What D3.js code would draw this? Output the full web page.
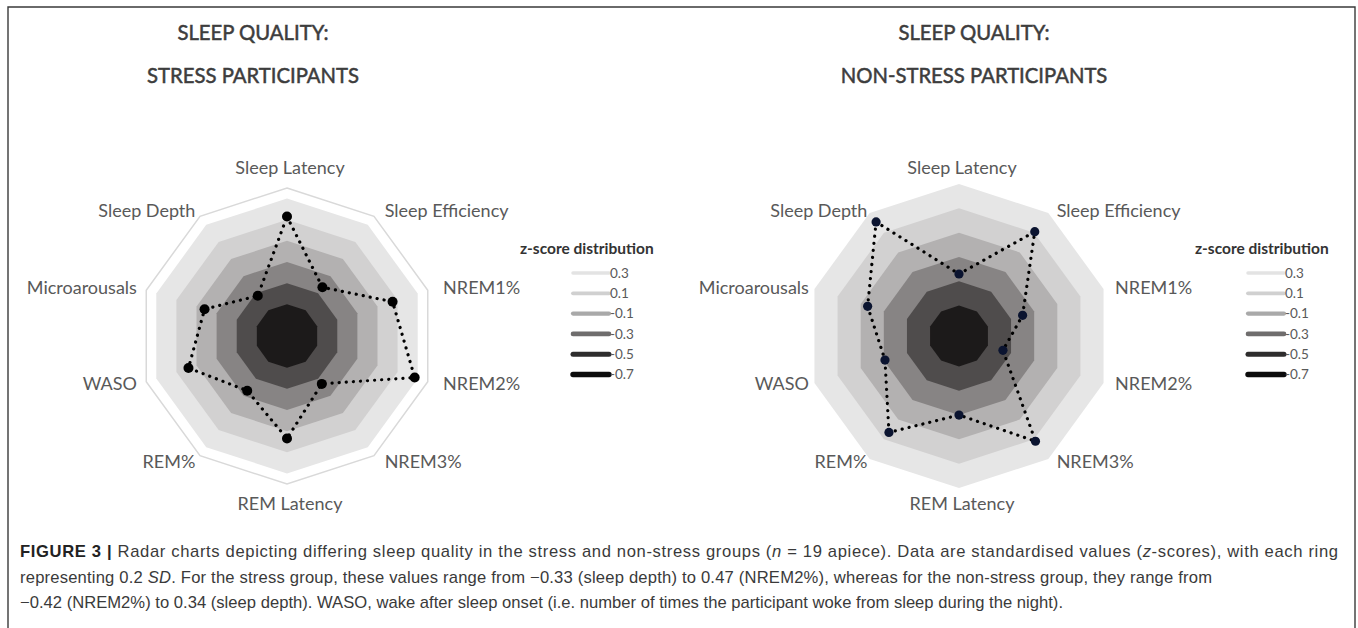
<!DOCTYPE html>
<html>
<head>
<meta charset="utf-8">
<script src="https://cdn.jsdelivr.net/npm/d3@7/dist/d3.min.js"></script>
<style>
  body { margin: 0; background: #fff; }
  svg { display: block; }
</style>
</head>
<body>
<svg></svg>
<script>
// axes of both radar charts, clockwise from the top
let axes = ['Sleep Latency', 'Sleep Efficiency', 'NREM1%', 'NREM2%', 'NREM3%',
            'REM Latency', 'REM%', 'WASO', 'Microarousals', 'Sleep Depth']

// z-scores
let stressValues    = [0.33, -0.23, 0.25, 0.47, -0.24, 0.17, -0.16, 0.18, 0.02, -0.33]
let nonStressValues = [-0.24, 0.31, -0.20, -0.37, 0.32, -0.10, 0.23, -0.11, 0.04, 0.41]

// rings of the z-score distribution, each ring 0.2 SD wide
let ringLabels = [0.3, 0.1, -0.1, -0.3, -0.5, -0.7]
let ringStep = 0.2

let titleLine1 = 'SLEEP QUALITY:'
let stressTitle = 'STRESS PARTICIPANTS'
let nonStressTitle = 'NON-STRESS PARTICIPANTS'
let legendTitle = 'z-score distribution'

let w = 1358
let h = 628

let ringColors = ['#e6e6e6', '#d2d1d1', '#b3b1b1', '#878484', '#4f4c4c', '#1c1a1a']
let legendColors = ['#e3e3e3', '#d0d0d0', '#a9a9a9', '#6f6d6d', '#2e2d2d', '#0c0c0c']
let legendWidths = [3.5, 3.8, 4.2, 4.6, 5, 5.4]

let svg = d3.select('svg')
  .attr('width', w)
  .attr('height', h)

let charts = [
  { title: [titleLine1, stressTitle], titleX: 253, values: stressValues,
    cx: 287, cy: 336, domain: [-0.8, 0.6], radius: 148, gridline: true,
    marker: '#000', markerR: 5, legendX: 520 },
  { title: [titleLine1, nonStressTitle], titleX: 974, values: nonStressValues,
    cx: 959, cy: 336, domain: [-0.75, 0.5], radius: 152, gridline: false,
    marker: '#0b1430', markerR: 4.6, legendX: 1195 }
]

let n = axes.length
let angle = (i) => i * 2 * Math.PI / n

let drawBorder = () => {
  svg.append('path')
    .attr('d', 'M8,' + (h + 5) + ' V7 H1355 V' + (h + 5))
    .attr('fill', 'none')
    .attr('stroke', '#3a3a3a')
    .attr('stroke-width', 1.4)
}

let drawChart = (c) => {
  let rScale = d3.scaleLinear()
    .domain(c.domain)
    .range([0, c.radius])

  let radial = d3.lineRadial()
    .angle((d, i) => angle(i))
    .radius((d) => rScale(d))
    .curve(d3.curveLinearClosed)

  let g = svg.append('g')
    .attr('transform', 'translate(' + c.cx + ',' + c.cy + ')')

  // title
  svg.append('g')
    .selectAll('text')
    .data(c.title)
    .enter()
    .append('text')
    .attr('x', c.titleX)
    .attr('y', (d, i) => 40 + i * 43)
    .attr('text-anchor', 'middle')
    .attr('font-family', 'Lato, sans-serif')
    .attr('font-size', 20.3)
    .attr('fill', '#3d3d3d')
    .attr('stroke', '#3d3d3d')
    .attr('stroke-width', 0.5)
    .text((d) => d)

  if (c.gridline) {
    g.append('path')
      .attr('d', radial(axes.map(() => c.domain[1])))
      .attr('fill', 'none')
      .attr('stroke', '#d9d9d9')
      .attr('stroke-width', 1.5)
  }

  // filled rings, biggest first
  g.selectAll('.ring')
    .data(ringLabels)
    .enter()
    .append('path')
    .attr('class', 'ring')
    .attr('d', (l) => radial(axes.map(() => l + ringStep)))
    .attr('fill', (l, i) => ringColors[i])

  // dotted series line
  g.append('path')
    .attr('d', radial(c.values))
    .attr('fill', 'none')
    .attr('stroke', '#000')
    .attr('stroke-width', 3.2)
    .attr('stroke-linecap', 'round')
    .attr('stroke-dasharray', '0.1 7')

  g.selectAll('.dot')
    .data(c.values)
    .enter()
    .append('circle')
    .attr('class', 'dot')
    .attr('cx', (d, i) => rScale(d) * Math.sin(angle(i)))
    .attr('cy', (d, i) => -rScale(d) * Math.cos(angle(i)))
    .attr('r', c.markerR)
    .attr('fill', c.marker)

  // axis labels
  g.selectAll('.axis-label')
    .data(axes)
    .enter()
    .append('text')
    .attr('class', 'axis-label')
    .attr('x', (d, i) => 3 + 161 * Math.sin(angle(i)))
    .attr('y', (d, i) => {
      let cos = Math.cos(angle(i))
      let y = -155 * cos
      if (Math.abs(cos) > 0.99) y += cos > 0 ? -13 : 13
      return y
    })
    .attr('dy', '0.35em')
    .attr('text-anchor', (d, i) => {
      let s = Math.sin(angle(i))
      if (Math.abs(s) < 0.01) return 'middle'
      return s > 0 ? 'start' : 'end'
    })
    .attr('font-family', 'Lato, sans-serif')
    .attr('font-size', 18)
    .attr('fill', '#595959')
    .text((d) => d)

  // legend
  let lg = svg.append('g')
  lg.append('text')
    .attr('x', c.legendX)
    .attr('y', 249)
    .attr('dy', '0.35em')
    .attr('font-family', 'Lato, sans-serif')
    .attr('font-size', 15.5)
    .attr('font-weight', 700)
    .attr('fill', '#333')
    .text(legendTitle)

  let rows = lg.selectAll('.row')
    .data(ringLabels)
    .enter()
    .append('g')
    .attr('class', 'row')
    .attr('transform', (d, i) => 'translate(0,' + (273 + i * 20.3) + ')')

  rows.append('line')
    .attr('x1', c.legendX + 53)
    .attr('x2', c.legendX + 89)
    .attr('stroke', (d, i) => legendColors[i])
    .attr('stroke-width', (d, i) => legendWidths[i])
    .attr('stroke-linecap', 'round')

  rows.append('text')
    .attr('x', c.legendX + 90)
    .attr('dy', '0.35em')
    .attr('font-family', 'Lato, sans-serif')
    .attr('font-size', 13.5)
    .attr('fill', '#595959')
    .text((d) => d.toFixed(1))
}

let drawCaption = () => {
  let lines = [
    [['FIGURE 3 |', 'b'], [' Radar charts depicting differing sleep quality in the stress and non-stress groups (', ''],
     ['n', 'i'], [' = 19 apiece). Data are standardised values (', ''], ['z', 'i'], ['-scores), with each ring', '']],
    [['representing 0.2 ', ''], ['SD', 'i'], ['. For the stress group, these values range from \u22120.33 (sleep depth) to 0.47 (NREM2%), whereas for the non-stress group, they range from', '']],
    [['\u22120.42 (NREM2%) to 0.34 (sleep depth). WASO, wake after sleep onset (i.e. number of times the participant woke from sleep during the night).', '']]
  ]
  // line widths as they are set in the figure
  let lineWidths = [1318, 1192, 1043]

  let cap = svg.append('g')
    .attr('font-family', '"Liberation Sans", Arial, sans-serif')
    .attr('font-size', 16.6)
    .attr('fill', '#3a3a3a')

  lines.forEach((parts, li) => {
    let t = cap.append('text')
      .attr('x', 20)
      .attr('y', 557 + li * 25.5)
      .attr('textLength', lineWidths[li])
      .attr('lengthAdjust', 'spacing')
    parts.forEach((p) => {
      t.append('tspan')
        .attr('font-weight', p[1] == 'b' ? 700 : 400)
        .attr('font-style', p[1] == 'i' ? 'italic' : 'normal')
        .attr('fill', p[1] == 'b' ? '#222' : null)
        .text(p[0])
    })
  })
}

drawBorder()
charts.forEach(drawChart)
drawCaption()
</script>
</body>
</html>
